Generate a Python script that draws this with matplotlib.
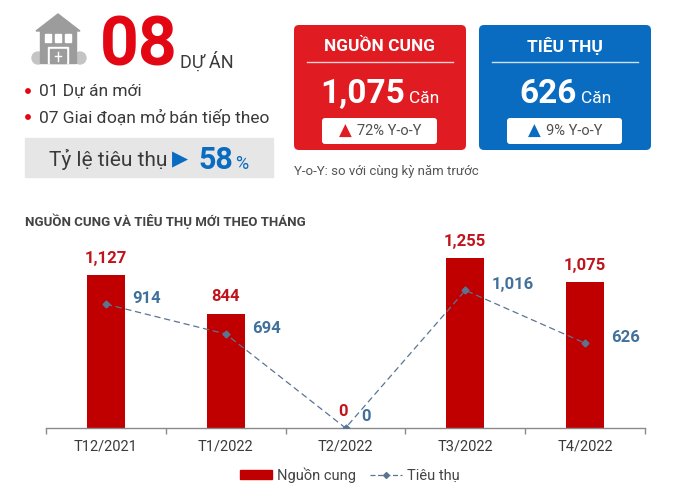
import matplotlib
matplotlib.use('Agg')
import matplotlib.pyplot as plt
from matplotlib.patches import FancyBboxPatch, Rectangle, Polygon, Circle
from matplotlib.lines import Line2D

plt.rcParams['font.family'] = ['Roboto', 'DejaVu Sans']

# chart data
months = ['T12/2021', 'T1/2022', 'T2/2022', 'T3/2022', 'T4/2022']
supply = [1127, 844, 0, 1255, 1075]
sales = [914, 694, 0, 1016, 626]

# summary figures
n_projects = '08'
bullets = ['01 Dự án mới', '07 Giai đoạn mở bán tiếp theo']
sell_rate = '58'
supply_total = '1,075'
sales_total = '626'
supply_yoy = '72% Y-o-Y'
sales_yoy = '9% Y-o-Y'

RED_BAR = '#c00000'
RED_CARD = '#e01b22'
BLUE_CARD = '#0a6cc0'
BLUE_TXT = '#41709c'
LINE_C = '#5a7592'
DARK = '#3a3a3a'

fig = plt.figure(figsize=(7, 4.87), dpi=100)
fig.patch.set_facecolor('white')
renderer = fig.canvas.get_renderer()

# overlay in pixel coordinates for the infographic part
ax0 = fig.add_axes([0, 0, 1, 1])
ax0.set_xlim(0, 700)
ax0.set_ylim(487, 0)
ax0.axis('off')


def text_width(t):
    # width in overlay units (= pixels)
    return t.get_window_extent(renderer).width


def centered_pair(cx, y, s1, kw1, s2, kw2, gap):
    # place two texts side by side, the pair centred on cx
    t1 = ax0.text(0, y, s1, ha='left', **kw1)
    t2 = ax0.text(0, y, s2, ha='left', **kw2)
    w1, w2 = text_width(t1), text_width(t2)
    start = cx - (w1 + gap + w2) / 2
    t1.set_x(start)
    t2.set_x(start + w1 + gap)


# house icon
g = '#9c9c9c'
ax0.add_patch(Circle((38, 58), 6, color='#c4c4c4'))
ax0.add_patch(Circle((80, 58), 6, color='#c4c4c4'))
ax0.add_patch(Polygon([(36, 31), (58, 14), (80, 31)], closed=True, color=g))
ax0.add_patch(Rectangle((40, 30), 36, 33, color=g))
for wx in (45, 55, 65):
    ax0.add_patch(Rectangle((wx, 34), 6, 8, color='white'))
ax0.add_patch(Rectangle((48, 47), 20, 16, color='white'))
ax0.add_patch(Rectangle((50, 49), 16, 14, color=g))
ax0.plot([58, 58], [52, 61], color='white', lw=1)
ax0.plot([55, 61], [56, 56], color='white', lw=1)

ax0.text(100, 66, n_projects, color='#e30613', fontsize=49, fontweight='bold',
         va='baseline', ha='left')
ax0.text(180, 68, 'DỰ ÁN', color=DARK, fontsize=13, va='baseline', ha='left')

for i, b in enumerate(bullets):
    y = 91 + i * 26
    ax0.add_patch(Circle((28, y), 2.2, color='#e30613'))
    ax0.text(39, y, b, color=DARK, fontsize=12.5, va='center', ha='left')

ax0.add_patch(Rectangle((25, 138), 248, 39, color='#e6e6e6'))
ax0.text(49, 159, 'Tỷ lệ tiêu thụ', color=DARK, fontsize=15, va='center', ha='left')
ax0.text(172, 159, '▶', color=BLUE_CARD, fontsize=15, va='center', ha='left',
         family=['DejaVu Sans'])
ax0.text(198, 169, sell_rate, color=BLUE_CARD, fontsize=22, fontweight='bold',
         va='baseline', ha='left')
ax0.text(235, 169, '%', color=BLUE_CARD, fontsize=13, va='baseline', ha='left')

# cards
cards = [
    (294, RED_CARD, 'NGUỒN CUNG', supply_total, supply_yoy),
    (479, BLUE_CARD, 'TIÊU THỤ', sales_total, sales_yoy),
]
for x0, col, title, big, yoy in cards:
    ax0.add_patch(FancyBboxPatch((x0, 25), 172, 125,
                                 boxstyle='round,pad=0,rounding_size=5',
                                 color=col, lw=0))
    cx = x0 + 86
    ax0.text(cx, 46, title, color='white', fontsize=12.5, fontweight='bold',
             ha='center', va='center')
    ax0.plot([x0 + 13, x0 + 159], [62, 62], color='white', lw=1, alpha=0.8)
    centered_pair(cx, 103,
                  big, dict(color='white', fontsize=24, fontweight='bold',
                            va='baseline'),
                  'Căn', dict(color='white', fontsize=12.5, va='baseline'),
                  gap=4)
    ax0.add_patch(FancyBboxPatch((x0 + 28, 118), 115, 26,
                                 boxstyle='round,pad=0,rounding_size=3',
                                 color='white', lw=0))
    centered_pair(cx, 131,
                  '▲', dict(color=col, fontsize=12, va='center',
                            family=['DejaVu Sans']),
                  yoy, dict(color='#505050', fontsize=10.5, va='center'),
                  gap=5)

ax0.text(294, 172, 'Y-o-Y: so với cùng kỳ năm trước', color='#555555',
         fontsize=9.5, ha='left', va='center')

ax0.text(25, 221, 'NGUỒN CUNG VÀ TIÊU THỤ MỚI THEO THÁNG', color='#444444',
         fontsize=9.5, fontweight='bold', ha='left', va='center')

# chart axes
ymax = 1400
px_per_unit = 0.1355
left, right, base = 46, 645, 428
h = ymax * px_per_unit
ax = fig.add_axes([left / 700, 1 - base / 487, (right - left) / 700, h / 487])
ax.patch.set_alpha(0)
x = list(range(len(months)))
ax.bar(x, supply, width=0.317, color=RED_BAR, zorder=2, label='Nguồn cung')
ax.plot(x, sales, color=LINE_C, lw=0.9, ls=(0, (5, 3)), marker='D',
        markersize=3.5, zorder=3, label='Tiêu thụ')

for xi, v in zip(x, supply):
    ax.annotate(f'{v:,}', (xi, v), xytext=(-2 if v == 0 else 0, 12),
                textcoords='offset points', ha='center', va='center',
                color='#c0141c', fontsize=12, fontweight='bold')
for xi, v in zip(x, sales):
    off = (11.5, 8.5) if v == 0 else (19, 4)
    ax.annotate(f'{v:,}', (xi, v), xytext=off, textcoords='offset points',
                ha='left', va='center', color=BLUE_TXT, fontsize=12,
                fontweight='bold')

ax.set_xlim(-0.5, len(months) - 0.5)
ax.set_ylim(0, ymax)
ax.set_yticks([])
for s in ('top', 'right', 'left'):
    ax.spines[s].set_visible(False)
ax.spines['bottom'].set_color('#8a8a8a')
ax.spines['bottom'].set_linewidth(1)
ax.set_xticks(x)
ax.set_xticklabels(months, fontsize=10.5, color=DARK)
ax.tick_params(axis='x', which='major', length=0, pad=8)
ax.set_xticks([i - 0.5 for i in range(len(months) + 1)], minor=True)
ax.tick_params(axis='x', which='minor', length=4, color='#8a8a8a', width=1)

handles = [Rectangle((0, 0), 1, 1, color=RED_BAR),
           Line2D([], [], color=LINE_C, lw=0.9, ls=(0, (4, 2)), marker='D',
                  markersize=3)]
fig.legend(handles, ['Nguồn cung', 'Tiêu thụ'], loc='center',
           bbox_to_anchor=(0.5, 1 - 475 / 487), ncol=2, frameon=False,
           fontsize=10.5, handlelength=2.2, handleheight=0.6,
           handletextpad=0.3, columnspacing=1.0, labelcolor='#444444')

fig.savefig('out.png', dpi=100, facecolor=fig.get_facecolor())
